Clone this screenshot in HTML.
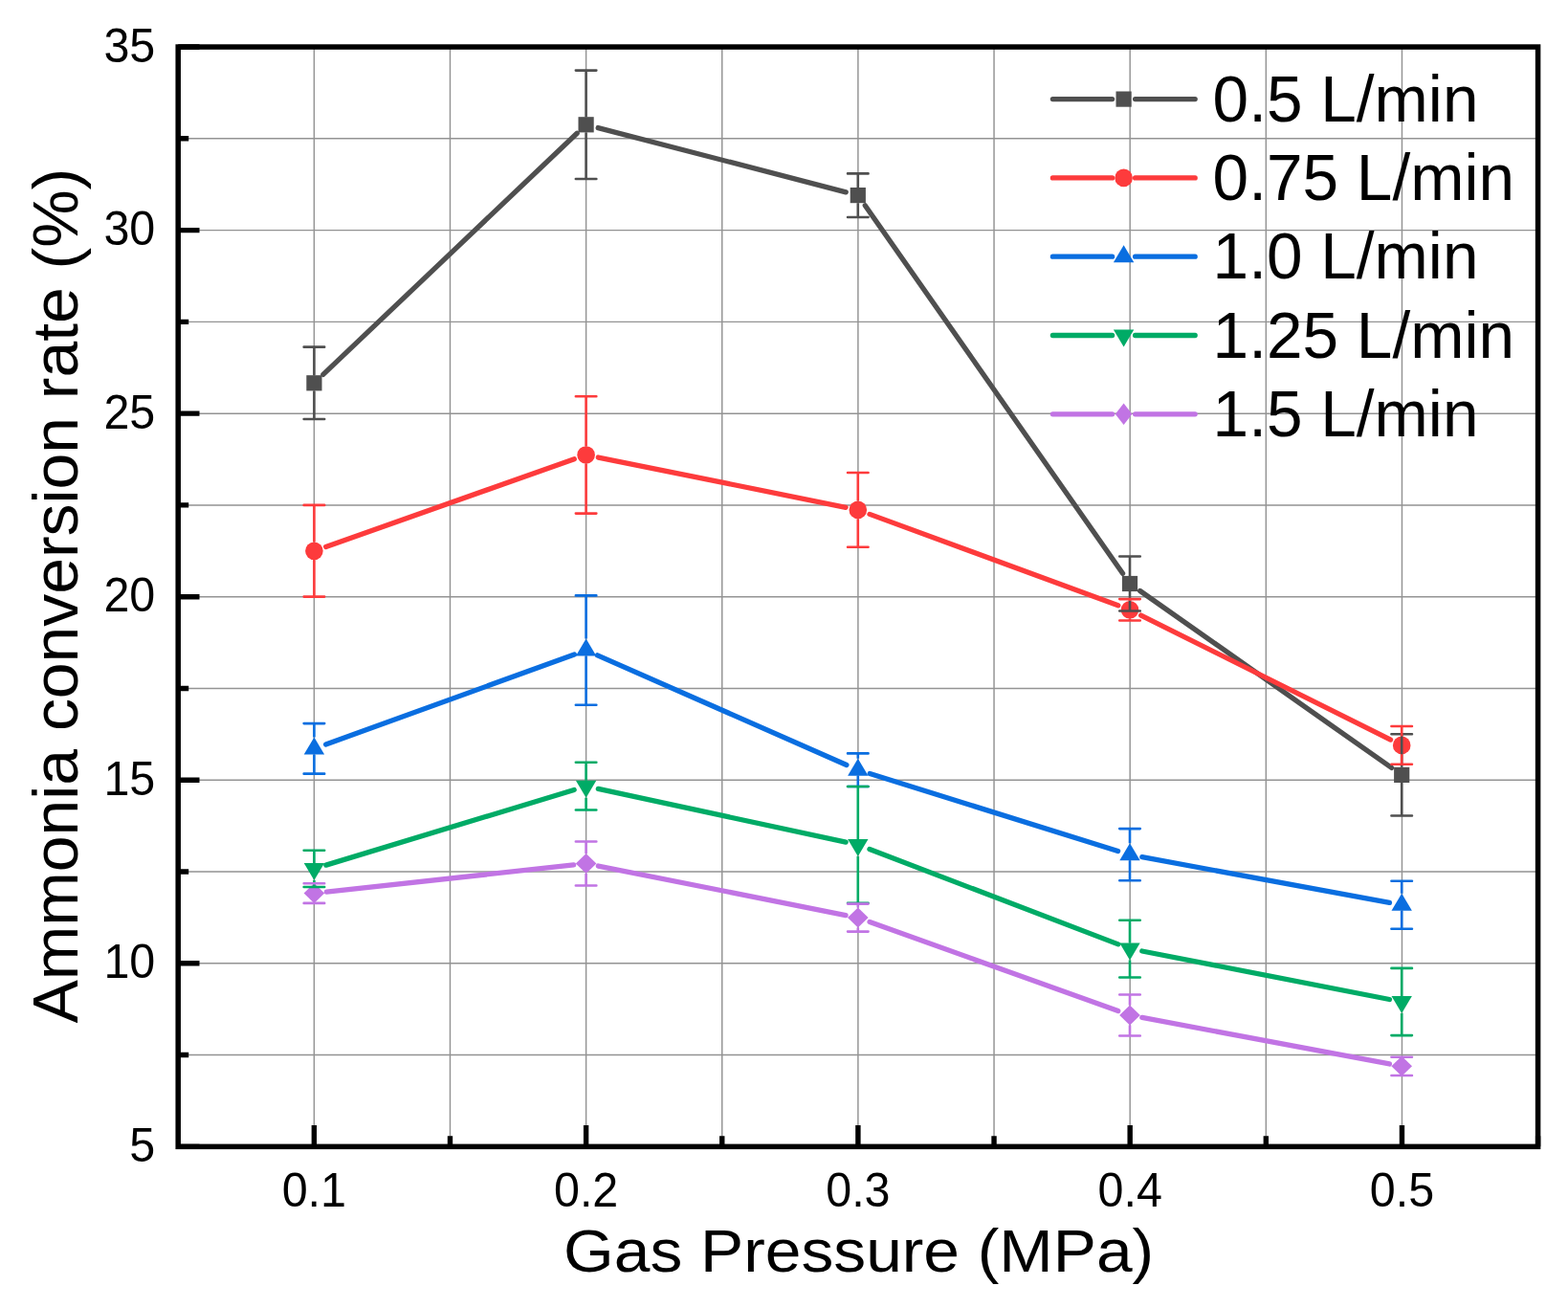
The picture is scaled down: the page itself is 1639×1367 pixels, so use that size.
<!DOCTYPE html>
<html><head><meta charset="utf-8"><title>Ammonia conversion rate vs gas pressure</title>
<style>
html,body{margin:0;padding:0;background:#fff;}
body{width:1639px;height:1367px;overflow:hidden;}
svg{display:block;}
.t{font-family:"Liberation Sans",Arial,sans-serif;fill:#000;}
</style></head><body>
<svg width="1639" height="1367" viewBox="0 0 1639 1367">
<rect width="1639" height="1367" fill="#fff"/>
<path d="M328.34 49.05V1198.35M470.48 49.05V1198.35M612.62 49.05V1198.35M754.76 49.05V1198.35M896.90 49.05V1198.35M1039.04 49.05V1198.35M1181.18 49.05V1198.35M1323.32 49.05V1198.35M1465.46 49.05V1198.35M186.20 1102.57H1607.60M186.20 1006.80H1607.60M186.20 911.02H1607.60M186.20 815.25H1607.60M186.20 719.48H1607.60M186.20 623.70H1607.60M186.20 527.92H1607.60M186.20 432.15H1607.60M186.20 336.38H1607.60M186.20 240.60H1607.60M186.20 144.82H1607.60" stroke="#939393" stroke-width="1.45" fill="none"/>
<path d="M1100.40 103.60H1162.60M1186.60 103.60H1249.20" stroke="#4f4f4f" stroke-width="5.3" stroke-linecap="round" fill="none"/>
<rect x="1166.50" y="95.50" width="16.2" height="16.2" fill="#4f4f4f"/>
<text transform="translate(1267.6 126.80) scale(0.995 1)" font-size="67.9" class="t">0.5 L/min</text>
<path d="M1100.40 185.90H1162.60M1186.60 185.90H1249.20" stroke="#fd3b3c" stroke-width="5.3" stroke-linecap="round" fill="none"/>
<circle cx="1174.60" cy="185.90" r="9.3" fill="#fd3b3c"/>
<text transform="translate(1267.6 209.10) scale(0.995 1)" font-size="67.9" class="t">0.75 L/min</text>
<path d="M1100.40 268.20H1162.60M1186.60 268.20H1249.20" stroke="#0a6ee0" stroke-width="5.3" stroke-linecap="round" fill="none"/>
<polygon points="1174.60,256.20 1185.30,274.20 1163.90,274.20" fill="#0a6ee0"/>
<text transform="translate(1267.6 291.40) scale(0.995 1)" font-size="67.9" class="t">1.0 L/min</text>
<path d="M1100.40 350.50H1162.60M1186.60 350.50H1249.20" stroke="#00ab66" stroke-width="5.3" stroke-linecap="round" fill="none"/>
<polygon points="1163.90,344.50 1185.30,344.50 1174.60,362.50" fill="#00ab66"/>
<text transform="translate(1267.6 373.70) scale(0.995 1)" font-size="67.9" class="t">1.25 L/min</text>
<path d="M1100.40 432.80H1162.60M1186.60 432.80H1249.20" stroke="#c174e4" stroke-width="5.3" stroke-linecap="round" fill="none"/>
<polygon points="1174.60,421.50 1183.40,432.80 1174.60,444.10 1165.80,432.80" fill="#c174e4"/>
<text transform="translate(1267.6 456.00) scale(0.995 1)" font-size="67.9" class="t">1.5 L/min</text>
<path d="M337.82 391.35L603.18 139.25M625.18 133.57L884.22 200.83M904.26 214.75L1173.54 599.35M1191.63 617.48L1454.57 802.42" stroke="#4f4f4f" stroke-width="5.3" stroke-linecap="round" fill="none"/>
<rect x="320.30" y="392.20" width="16.2" height="16.2" fill="#4f4f4f"/>
<rect x="604.50" y="122.20" width="16.2" height="16.2" fill="#4f4f4f"/>
<rect x="888.70" y="196.00" width="16.2" height="16.2" fill="#4f4f4f"/>
<rect x="1172.90" y="601.90" width="16.2" height="16.2" fill="#4f4f4f"/>
<rect x="1457.10" y="801.80" width="16.2" height="16.2" fill="#4f4f4f"/>
<path d="M340.66 571.47L600.34 479.78M625.34 478.03L884.06 530.32M909.00 537.38L1168.80 632.82M1192.64 643.10L1453.56 773.10" stroke="#fd3b3c" stroke-width="5.3" stroke-linecap="round" fill="none"/>
<circle cx="328.40" cy="575.80" r="9.3" fill="#fd3b3c"/>
<circle cx="612.60" cy="475.45" r="9.3" fill="#fd3b3c"/>
<circle cx="896.80" cy="532.90" r="9.3" fill="#fd3b3c"/>
<circle cx="1181.00" cy="637.30" r="9.3" fill="#fd3b3c"/>
<circle cx="1465.20" cy="778.90" r="9.3" fill="#fd3b3c"/>
<path d="M340.62 777.98L600.38 684.02M624.50 684.84L884.90 799.46M909.21 808.57L1168.59 889.43M1193.78 895.66L1452.42 943.44" stroke="#0a6ee0" stroke-width="5.3" stroke-linecap="round" fill="none"/>
<polygon points="328.40,770.40 339.10,788.40 317.70,788.40" fill="#0a6ee0"/>
<polygon points="612.60,667.60 623.30,685.60 601.90,685.60" fill="#0a6ee0"/>
<polygon points="896.80,792.70 907.50,810.70 886.10,810.70" fill="#0a6ee0"/>
<polygon points="1181.00,881.30 1191.70,899.30 1170.30,899.30" fill="#0a6ee0"/>
<polygon points="1465.20,933.80 1475.90,951.80 1454.50,951.80" fill="#0a6ee0"/>
<path d="M340.84 904.13L600.16 825.47M625.31 824.44L884.09 880.16M908.94 887.54L1168.86 986.86M1193.76 993.99L1452.44 1044.51" stroke="#00ab66" stroke-width="5.3" stroke-linecap="round" fill="none"/>
<polygon points="317.70,901.90 339.10,901.90 328.40,919.90" fill="#00ab66"/>
<polygon points="601.90,815.70 623.30,815.70 612.60,833.70" fill="#00ab66"/>
<polygon points="886.10,876.90 907.50,876.90 896.80,894.90" fill="#00ab66"/>
<polygon points="1170.30,985.50 1191.70,985.50 1181.00,1003.50" fill="#00ab66"/>
<polygon points="1454.50,1041.00 1475.90,1041.00 1465.20,1059.00" fill="#00ab66"/>
<path d="M341.32 932.19L599.68 903.91M625.35 905.04L884.05 956.56M909.04 963.49L1168.76 1056.61M1193.78 1063.40L1452.42 1111.95" stroke="#c174e4" stroke-width="5.3" stroke-linecap="round" fill="none"/>
<polygon points="328.40,923.10 339.20,933.60 328.40,944.10 317.60,933.60" fill="#c174e4"/>
<polygon points="612.60,892.00 623.40,902.50 612.60,913.00 601.80,902.50" fill="#c174e4"/>
<polygon points="896.80,948.60 907.60,959.10 896.80,969.60 886.00,959.10" fill="#c174e4"/>
<polygon points="1181.00,1050.50 1191.80,1061.00 1181.00,1071.50 1170.20,1061.00" fill="#c174e4"/>
<polygon points="1465.20,1103.85 1476.00,1114.35 1465.20,1124.85 1454.40,1114.35" fill="#c174e4"/>
<path d="M328.40 362.65V392.20M328.40 408.40V438.07M612.60 73.60V122.20M612.60 138.40V187.00M896.80 181.40V196.00M896.80 212.20V227.00M1181.00 581.50V601.90M1181.00 618.10V638.50M1465.20 767.30V801.80M1465.20 818.00V852.50" stroke="#4f4f4f" stroke-width="2.6" fill="none"/>
<path d="M317.65 362.65H339.15M317.65 438.07H339.15M601.85 73.60H623.35M601.85 187.00H623.35M886.05 181.40H907.55M886.05 227.00H907.55M1170.25 581.50H1191.75M1170.25 638.50H1191.75M1454.45 767.30H1475.95M1454.45 852.50H1475.95" stroke="#4f4f4f" stroke-width="2.6" stroke-linecap="round" fill="none"/>
<path d="M328.40 527.90V566.50M328.40 585.10V623.60M612.60 414.30V466.15M612.60 484.75V536.60M896.80 494.00V523.60M896.80 542.20V571.80M1181.00 626.10V628.00M1181.00 646.60V648.50M1465.20 759.00V769.60M1465.20 788.20V798.80" stroke="#fd3b3c" stroke-width="2.6" fill="none"/>
<path d="M317.65 527.90H339.15M317.65 623.60H339.15M601.85 414.30H623.35M601.85 536.60H623.35M886.05 494.00H907.55M886.05 571.80H907.55M1170.25 626.10H1191.75M1170.25 648.50H1191.75M1454.45 759.00H1475.95M1454.45 798.80H1475.95" stroke="#fd3b3c" stroke-width="2.6" stroke-linecap="round" fill="none"/>
<path d="M328.40 756.10V770.40M328.40 788.40V808.65M612.60 622.40V667.60M612.60 685.60V736.80M896.80 787.40V792.70M896.80 810.70V822.00M1181.00 866.10V881.30M1181.00 899.30V920.30M1465.20 920.70V933.80M1465.20 951.80V970.80" stroke="#0a6ee0" stroke-width="2.6" fill="none"/>
<path d="M317.65 756.10H339.15M317.65 808.65H339.15M601.85 622.40H623.35M601.85 736.80H623.35M886.05 787.40H907.55M886.05 822.00H907.55M1170.25 866.10H1191.75M1170.25 920.30H1191.75M1454.45 920.70H1475.95M1454.45 970.80H1475.95" stroke="#0a6ee0" stroke-width="2.6" stroke-linecap="round" fill="none"/>
<path d="M328.40 888.80V901.90M328.40 919.90V927.05M612.60 796.80V815.70M612.60 833.70V846.50M896.80 822.00V876.90M896.80 894.90V943.80M1181.00 961.70V985.50M1181.00 1003.50V1021.50M1465.20 1011.90V1041.00M1465.20 1059.00V1082.10" stroke="#00ab66" stroke-width="2.6" fill="none"/>
<path d="M317.65 888.80H339.15M317.65 927.05H339.15M601.85 796.80H623.35M601.85 846.50H623.35M886.05 822.00H907.55M886.05 943.80H907.55M1170.25 961.70H1191.75M1170.25 1021.50H1191.75M1454.45 1011.90H1475.95M1454.45 1082.10H1475.95" stroke="#00ab66" stroke-width="2.6" stroke-linecap="round" fill="none"/>
<path d="M612.60 879.50V892.00M612.60 913.00V925.50M896.80 944.60V948.60M896.80 969.60V973.60M1181.00 1039.50V1050.50M1181.00 1071.50V1082.50" stroke="#c174e4" stroke-width="2.6" fill="none"/>
<path d="M317.65 923.20H339.15M317.65 943.90H339.15M601.85 879.50H623.35M601.85 925.50H623.35M886.05 944.60H907.55M886.05 973.60H907.55M1170.25 1039.50H1191.75M1170.25 1082.50H1191.75M1454.45 1104.70H1475.95M1454.45 1124.00H1475.95" stroke="#c174e4" stroke-width="2.6" stroke-linecap="round" fill="none"/>
<path d="M328.34 1198.35V1176.05M612.62 1198.35V1176.05M896.90 1198.35V1176.05M1181.18 1198.35V1176.05M1465.46 1198.35V1176.05M470.48 1198.35V1187.35M754.76 1198.35V1187.35M1039.04 1198.35V1187.35M1323.32 1198.35V1187.35M1607.60 1198.35V1187.35M186.20 1198.35H208.50M186.20 1006.80H208.50M186.20 815.25H208.50M186.20 623.70H208.50M186.20 432.15H208.50M186.20 240.60H208.50M186.20 49.05H208.50M186.20 1102.57H197.20M186.20 911.02H197.20M186.20 719.48H197.20M186.20 527.92H197.20M186.20 336.38H197.20M186.20 144.82H197.20" stroke="#000" stroke-width="5.4" fill="none"/>
<rect x="186.20" y="49.05" width="1421.40" height="1149.30" fill="none" stroke="#000" stroke-width="5.5"/>
<text transform="translate(162.3 1213.85) scale(0.965 1)" font-size="50.2" text-anchor="end" class="t">5</text>
<text transform="translate(162.3 1022.30) scale(0.965 1)" font-size="50.2" text-anchor="end" class="t">10</text>
<text transform="translate(162.3 830.75) scale(0.965 1)" font-size="50.2" text-anchor="end" class="t">15</text>
<text transform="translate(162.3 639.20) scale(0.965 1)" font-size="50.2" text-anchor="end" class="t">20</text>
<text transform="translate(162.3 447.65) scale(0.965 1)" font-size="50.2" text-anchor="end" class="t">25</text>
<text transform="translate(162.3 256.10) scale(0.965 1)" font-size="50.2" text-anchor="end" class="t">30</text>
<text transform="translate(162.3 64.55) scale(0.965 1)" font-size="50.2" text-anchor="end" class="t">35</text>
<text transform="translate(328.34 1261.4) scale(0.965 1)" font-size="50.2" text-anchor="middle" class="t">0.1</text>
<text transform="translate(612.62 1261.4) scale(0.965 1)" font-size="50.2" text-anchor="middle" class="t">0.2</text>
<text transform="translate(896.90 1261.4) scale(0.965 1)" font-size="50.2" text-anchor="middle" class="t">0.3</text>
<text transform="translate(1181.18 1261.4) scale(0.965 1)" font-size="50.2" text-anchor="middle" class="t">0.4</text>
<text transform="translate(1465.46 1261.4) scale(0.965 1)" font-size="50.2" text-anchor="middle" class="t">0.5</text>
<text transform="translate(897.6 1329.0) scale(1.087 1)" font-size="62.3" text-anchor="middle" class="t">Gas Pressure (MPa)</text>
<text transform="translate(81.2 622.7) rotate(-90) scale(1.01 1)" font-size="67.2" text-anchor="middle" class="t">Ammonia conversion rate (%)</text>
</svg>
</body></html>
